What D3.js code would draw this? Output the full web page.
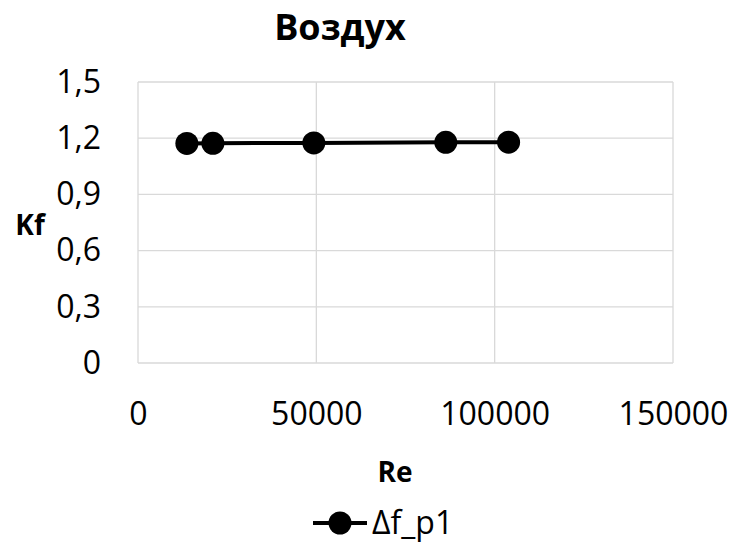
<!DOCTYPE html>
<html>
<head>
<meta charset="utf-8">
<script src="https://cdn.jsdelivr.net/npm/d3@7"></script>
<style>
  body { margin: 0; background: #fff; }
  text { font-family: "Open Sans", sans-serif; fill: #000; }
</style>
</head>
<body>
<svg id="chart"></svg>
<script>
// data
var reValues = [13700, 21000, 49300, 86300, 103900];
var kfValues = [1.172, 1.173, 1.175, 1.178, 1.179];
var xTicks = [0, 50000, 100000, 150000];
var yTicks = [0, 0.3, 0.6, 0.9, 1.2, 1.5];
var seriesName = "\u0394f_p1";

var W = 733, H = 550;
var margin = {top: 82, right: 60, bottom: 187, left: 138},
    width = W - margin.left - margin.right,
    height = H - margin.top - margin.bottom;

var svg = d3.select("#chart")
  .attr("width", W)
  .attr("height", H);

var x = d3.scaleLinear().domain([0, 150000]).range([0, width]);
var y = d3.scaleLinear().domain([0, 1.5]).range([height, 0]);

var g = svg.append("g")
  .attr("transform", "translate(" + margin.left + "," + margin.top + ")");

// grid lines
g.selectAll(".hgrid")
  .data(yTicks)
  .enter().append("line")
  .attr("x1", 0).attr("x2", width)
  .attr("y1", function(d) { return y(d); })
  .attr("y2", function(d) { return y(d); })
  .attr("stroke", "#d9d9d9").attr("stroke-width", 1.3);

g.selectAll(".vgrid")
  .data(xTicks)
  .enter().append("line")
  .attr("y1", 0).attr("y2", height)
  .attr("x1", function(d) { return x(d); })
  .attr("x2", function(d) { return x(d); })
  .attr("stroke", "#d9d9d9").attr("stroke-width", 1.3);

// axes (labels only, lines hidden)
var fmt = function(d) { return String(d).replace(".", ","); };

var xAxis = g.append("g")
  .attr("transform", "translate(0," + height + ")")
  .call(d3.axisBottom(x).tickValues(xTicks).tickSize(0).tickFormat(fmt));
xAxis.select(".domain").remove();
xAxis.selectAll("text")
  .attr("y", 62).attr("dy", 0)
  .style("font-size", "32px").attr("font-family", "Open Sans");

var yAxis = g.append("g")
  .call(d3.axisLeft(y).tickValues(yTicks).tickSize(0).tickPadding(37).tickFormat(fmt));
yAxis.select(".domain").remove();
yAxis.selectAll("text").style("font-size", "32px").attr("font-family", "Open Sans");

// line + markers
var pts = reValues.map(function(d, i) { return [d, kfValues[i]]; });

g.append("path")
  .datum(pts)
  .attr("fill", "none")
  .attr("stroke", "#000")
  .attr("stroke-width", 4)
  .attr("d", d3.line().x(function(d) { return x(d[0]); }).y(function(d) { return y(d[1]); }));

g.selectAll(".pt")
  .data(pts)
  .enter().append("circle")
  .attr("cx", function(d) { return x(d[0]); })
  .attr("cy", function(d) { return y(d[1]); })
  .attr("r", 11.5)
  .attr("fill", "#000");

// title and axis titles
svg.append("text")
  .attr("x", 340).attr("y", 40)
  .attr("text-anchor", "middle")
  .style("font-size", "36px").style("font-weight", "bold")
  .text("Воздух");

svg.append("text")
  .attr("x", 30).attr("y", 235)
  .attr("text-anchor", "middle")
  .style("font-size", "28px").style("font-weight", "bold")
  .text("Kf");

svg.append("text")
  .attr("x", 395).attr("y", 482)
  .attr("text-anchor", "middle")
  .style("font-size", "28px").style("font-weight", "bold")
  .text("Re");

// legend
var lg = svg.append("g").attr("transform", "translate(313,523)");
lg.append("line")
  .attr("x1", 0).attr("x2", 54).attr("y1", 0).attr("y2", 0)
  .attr("stroke", "#000").attr("stroke-width", 4);
lg.append("circle").attr("cx", 27).attr("cy", 0).attr("r", 11.5).attr("fill", "#000");
lg.append("text")
  .attr("x", 59).attr("y", 11)
  .style("font-size", "32px")
  .text(seriesName);
</script>
</body>
</html>
